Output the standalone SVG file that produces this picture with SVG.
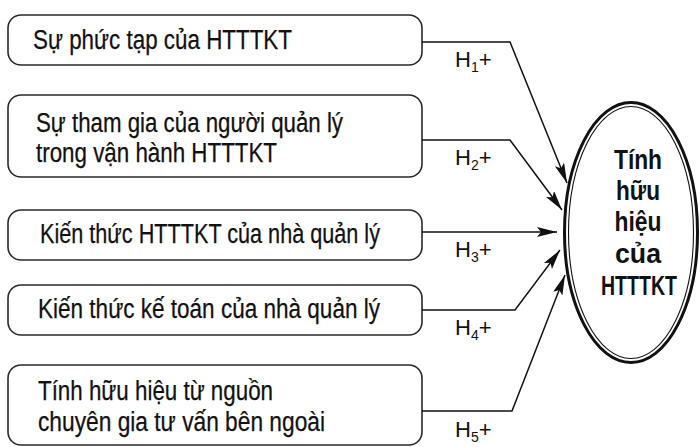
<svg xmlns="http://www.w3.org/2000/svg" width="700" height="447" viewBox="0 0 700 447">
  <style>
    .box { fill: #ffffff; stroke: #2a2a2a; stroke-width: 1.6; }
    .lbl { font-family: "Liberation Sans", Arial, sans-serif; font-size: 27px; fill: #111111; stroke: #111111; stroke-width: 0.25; }
    .hyp { font-family: "Liberation Sans", Arial, sans-serif; font-size: 22px; fill: #111111; }
    .sub { font-size: 14px; }
    .wire { fill: none; stroke: #111111; stroke-width: 1.5; marker-end: url(#head); }
    .goal { font-family: "Liberation Sans", Arial, sans-serif; font-size: 27px; font-weight: bold; fill: #111111; text-anchor: middle; }
  </style>
  <defs>
    <marker id="head" markerUnits="userSpaceOnUse" markerWidth="22" markerHeight="12" refX="20" refY="5" orient="auto">
      <path d="M0,0 L20,5 L0,10 L4,5 Z" fill="#111111"/>
    </marker>
  </defs>
  <rect width="700" height="447" fill="#ffffff"/>

  <!-- factor boxes -->
  <g id="factor1">
    <rect class="box" x="8" y="15" width="414" height="50" rx="13"/>
    <text class="lbl" x="33" y="49" textLength="259" lengthAdjust="spacingAndGlyphs">Sự phức tạp của HTTTKT</text>
  </g>
  <g id="factor2">
    <rect class="box" x="8" y="95" width="414" height="82" rx="13"/>
    <text class="lbl" x="36" y="132" textLength="307" lengthAdjust="spacingAndGlyphs">Sự tham gia của người quản lý</text>
    <text class="lbl" x="36" y="162" textLength="241" lengthAdjust="spacingAndGlyphs">trong vận hành HTTTKT</text>
  </g>
  <g id="factor3">
    <rect class="box" x="8" y="210" width="414" height="50" rx="13"/>
    <text class="lbl" x="40" y="243" textLength="340" lengthAdjust="spacingAndGlyphs">Kiến thức HTTTKT của nhà quản lý</text>
  </g>
  <g id="factor4">
    <rect class="box" x="8" y="285" width="414" height="50" rx="13"/>
    <text class="lbl" x="38" y="318" textLength="342" lengthAdjust="spacingAndGlyphs">Kiến thức kế toán của nhà quản lý</text>
  </g>
  <g id="factor5">
    <rect class="box" x="8" y="365" width="414" height="80" rx="13"/>
    <text class="lbl" x="38" y="400" textLength="235" lengthAdjust="spacingAndGlyphs">Tính hữu hiệu từ nguồn</text>
    <text class="lbl" x="38" y="431" textLength="287" lengthAdjust="spacingAndGlyphs">chuyên gia tư vấn bên ngoài</text>
  </g>

  <!-- outcome ellipse -->
  <g id="outcome">
    <ellipse cx="631" cy="232.5" rx="66.5" ry="130" fill="#ffffff" stroke="#111111" stroke-width="3"/>
    <ellipse cx="631" cy="232.5" rx="62.5" ry="126" fill="none" stroke="#111111" stroke-width="1.1"/>
    <text class="goal" x="638" y="169" textLength="48" lengthAdjust="spacingAndGlyphs">Tính</text>
    <text class="goal" x="638" y="200" textLength="44" lengthAdjust="spacingAndGlyphs">hữu</text>
    <text class="goal" x="638" y="231" textLength="47" lengthAdjust="spacingAndGlyphs">hiệu</text>
    <text class="goal" x="638" y="263" textLength="46" lengthAdjust="spacingAndGlyphs">của</text>
    <text class="goal" x="639" y="295" textLength="76" lengthAdjust="spacingAndGlyphs">HTTTKT</text>
  </g>

  <!-- hypothesis connectors -->
  <g id="connectors">
    <path class="wire" d="M422,42 L510,42 L567,183"/>
    <path class="wire" d="M422,140 L510,140 L562,210"/>
    <path class="wire" d="M422,232 L557,232"/>
    <path class="wire" d="M422,310 L515,310 L560,250"/>
    <path class="wire" d="M422,411 L512,411 L565,275"/>
    <text class="hyp" x="455" y="67">H<tspan class="sub" dy="5">1</tspan><tspan dy="-5">+</tspan></text>
    <text class="hyp" x="455" y="165">H<tspan class="sub" dy="5">2</tspan><tspan dy="-5">+</tspan></text>
    <text class="hyp" x="455" y="257">H<tspan class="sub" dy="5">3</tspan><tspan dy="-5">+</tspan></text>
    <text class="hyp" x="455" y="335">H<tspan class="sub" dy="5">4</tspan><tspan dy="-5">+</tspan></text>
    <text class="hyp" x="455" y="437">H<tspan class="sub" dy="5">5</tspan><tspan dy="-5">+</tspan></text>
  </g>
</svg>
